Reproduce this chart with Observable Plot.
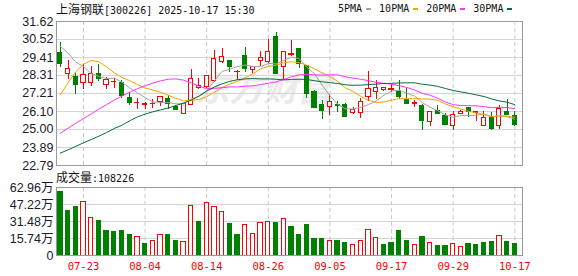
<!DOCTYPE html>
<html><head><meta charset="utf-8">
<script src="https://cdn.jsdelivr.net/npm/d3@7"></script>
<script src="https://cdn.jsdelivr.net/npm/@observablehq/plot@0.6"></script>
<style>
body{margin:0;background:#fff;}
#wrap{position:relative;width:578px;height:276px;overflow:hidden;background:#fff;}
#price,#vol{position:absolute;left:0;}
#price{top:0;}
#vol{top:170px;}
.t{position:absolute;white-space:nowrap;color:#111;}
.cjk{font-family:"Noto Sans CJK SC",sans-serif;font-size:12px;}
.mono{font-family:"DejaVu Sans Mono",monospace;font-size:10px;}
#title{left:56px;top:1px;line-height:16px;}
#vtitle{left:56px;top:169px;line-height:16px;}
#legend{left:338px;top:1px;line-height:16px;display:flex;align-items:center;}
.sw{display:inline-block;width:5px;height:2px;margin-left:4px;margin-right:8px;}
</style></head><body>
<div id="wrap">
  <div id="price"></div>
  <div id="vol"></div>
  <div class="t" id="title"></div>
  <div class="t" id="vtitle"></div>
  <div class="t mono" id="legend"></div>
</div>
<script>
const stockName = "上海钢联";
const stockCode = "[300226]";
const stamp = "2025-10-17 15:30";
const volLabel = "成交量";
const lastVolume = "108226";
const watermark = "东方财富";

const dates = ["07-18","07-21","07-22","07-23","07-24","07-25","07-28","07-29","07-30","07-31",
  "08-01","08-04","08-05","08-06","08-07","08-08","08-11","08-12","08-13","08-14",
  "08-15","08-18","08-19","08-20","08-21","08-22","08-25","08-26","08-27","08-28",
  "08-29","09-01","09-02","09-03","09-04","09-05","09-08","09-09","09-10","09-11",
  "09-12","09-15","09-16","09-17","09-18","09-19","09-22","09-23","09-24","09-25",
  "09-26","09-29","09-30","10-09","10-10","10-13","10-14","10-15","10-16","10-17"];

const open = [29.70,28.43,28.21,27.82,27.82,28.39,27.74,27.90,27.82,26.92,
  26.60,26.47,26.55,26.69,26.84,26.39,25.96,26.49,27.55,27.59,
  27.98,29.15,29.19,28.51,29.49,28.66,29.21,29.15,30.66,28.80,
  29.56,29.92,28.90,27.29,26.51,26.35,26.47,26.47,26.02,26.02,
  26.96,27.27,27.41,27.39,27.29,26.82,26.59,26.43,25.43,26.12,
  25.84,25.24,25.92,26.31,26.02,25.24,25.69,25.24,26.10,25.84];
const close = [29.02,28.70,27.74,28.31,28.39,28.12,28.02,27.93,27.06,26.63,
  26.65,26.55,26.58,26.96,26.55,26.22,26.55,28.12,27.67,28.25,
  29.29,29.45,28.80,28.53,28.70,28.82,29.41,29.78,28.41,29.74,
  29.62,29.02,27.18,26.31,26.16,26.67,26.45,25.75,26.20,26.71,
  27.47,27.57,27.53,27.49,27.00,26.57,26.61,25.51,26.10,25.94,
  25.28,25.86,26.10,26.08,26.04,25.69,25.04,26.24,25.90,25.28];
const high = [30.35,29.23,28.51,29.00,28.84,29.00,28.19,28.12,27.98,27.29,
  26.92,26.67,26.82,26.98,27.08,26.47,26.57,28.70,28.15,28.27,
  29.84,29.98,29.23,28.59,30.03,28.84,29.78,30.54,30.92,29.80,
  30.43,29.94,28.92,27.37,26.80,27.12,26.71,26.59,26.35,26.92,
  28.53,28.02,27.57,27.74,28.00,27.53,26.78,26.55,26.12,26.47,
  26.00,26.10,26.14,26.33,26.10,26.10,26.04,26.47,26.86,26.10];
const low = [28.80,28.04,27.16,27.43,27.61,27.96,27.45,27.49,26.90,26.45,
  26.20,26.24,26.31,26.39,26.22,26.16,25.94,26.45,27.43,27.53,
  27.90,29.06,28.49,28.00,28.50,28.45,28.86,29.06,28.39,28.02,
  29.47,28.72,26.88,26.29,25.59,25.86,26.06,25.73,25.90,25.65,
  26.71,26.82,27.35,27.29,26.82,26.55,26.37,24.92,25.16,25.92,
  25.26,24.92,25.90,25.75,25.49,25.22,24.92,25.00,25.88,25.16];

// 成交量, 万手
const volume = [58.95,41.36,45.06,49.38,34.88,32.10,22.84,21.91,22.84,19.13,
  16.97,10.80,13.27,18.83,19.13,13.58,12.35,45.68,31.17,48.45,
  44.75,40.12,29.32,19.13,28.09,19.75,29.94,30.86,30.25,33.64,
  26.54,19.13,28.39,15.43,15.43,13.27,13.58,11.73,9.88,13.27,
  23.46,16.05,9.88,11.73,22.84,13.58,9.88,17.28,11.42,8.95,
  8.95,10.49,7.72,10.80,9.88,11.73,12.65,17.90,12.65,10.82];
// 1 = 涨 (red, hollow), 0 = 跌 (green)
const volUp = [0,0,0,1,1,0,0,0,0,0, 1,0,1,1,0,0,1,1,0,1, 1,1,0,0,1,1,1,1,0,1,
  0,0,0,0,0,1,0,0,1,1, 1,1,0,0,0,0,1,0,1,0, 0,1,1,0,0,0,0,1,0,0];

const ma5 = [30.09,29.68,29.12,28.87,28.43,28.25,28.12,28.15,27.90,27.55,
  27.25,26.95,26.68,26.66,26.65,26.57,26.57,26.88,27.02,27.36,
  27.98,28.56,28.69,28.86,28.95,28.86,28.85,29.05,29.02,29.23,
  29.43,29.35,28.83,28.41,27.70,27.07,26.55,26.27,26.25,26.36,
  26.52,26.74,27.10,27.35,27.41,27.23,27.04,26.64,26.36,26.15,
  25.89,25.74,25.86,25.85,25.87,25.95,25.79,25.82,25.78,25.63];
const ma10 = [27.12,27.86,28.53,29.00,29.23,29.15,28.84,28.47,28.19,27.99,
  27.75,27.54,27.42,27.28,27.10,26.91,26.76,26.78,26.84,27.01,
  27.28,27.57,27.79,27.94,28.16,28.42,28.71,28.87,28.94,29.09,
  29.15,29.10,28.94,28.72,28.47,28.25,27.95,27.55,27.33,27.03,
  26.80,26.65,26.69,26.80,26.89,26.88,26.89,26.87,26.86,26.78,
  26.56,26.39,26.25,26.11,26.01,25.92,25.77,25.84,25.82,25.75];
const ma20 = [24.77,25.08,25.38,25.67,25.95,26.25,26.52,26.80,27.05,27.28,
  27.50,27.68,27.84,27.98,28.08,28.10,28.02,27.86,27.66,27.50,
  27.52,27.56,27.61,27.61,27.65,27.68,27.75,27.84,27.91,28.07,
  28.23,28.35,28.38,28.35,28.33,28.35,28.35,28.23,28.15,28.08,
  27.99,27.89,27.83,27.78,27.68,27.57,27.42,27.21,27.10,26.91,
  26.68,26.52,26.47,26.46,26.45,26.40,26.33,26.36,26.34,26.27];
const ma30 = [23.55,23.75,23.96,24.18,24.38,24.59,24.81,25.06,25.26,25.53,
  25.77,25.94,26.08,26.20,26.31,26.47,26.62,26.80,27.05,27.35,
  27.60,27.80,27.95,28.05,28.10,28.12,28.10,28.10,28.08,28.04,
  28.07,28.08,28.06,27.99,27.92,27.87,27.82,27.74,27.71,27.72,
  27.75,27.78,27.82,27.83,27.85,27.86,27.86,27.77,27.72,27.64,
  27.51,27.39,27.30,27.22,27.12,27.02,26.87,26.75,26.67,26.52];

const maNames = ["5PMA","10PMA","20PMA","30PMA"];
const maColors = ["#a3a3a3","#f5a300","#ff33ff","#0a6b3a"];
const priceTicks = [22.79,23.89,25.00,26.10,27.21,28.31,29.41,30.52,31.62];
const volTicks = [0,15.74,31.48,47.22,62.96];
const dateTicks = ["07-23","08-04","08-14","08-26","09-05","09-17","09-29","10-17"];

const RED = "#ff0000", GREEN = "#008000";
const rows = dates.map((d, i) => ({
  i, date: d, open: open[i], close: close[i], high: high[i], low: low[i],
  vol: volume[i], vup: volUp[i], ma5: ma5[i], ma10: ma10[i], ma20: ma20[i], ma30: ma30[i]
}));
const tickIdx = dateTicks.map(d => dates.indexOf(d));
const candleColor = d => d.close >= d.open ? RED : GREEN;
const maKeys = ["ma5","ma10","ma20","ma30"];
const xDomain = [-0.5, dates.length];
const axisFont = "Liberation Sans, Arial, Noto Sans CJK SC, sans-serif";
const gridColor = "#d4d4d4";

const price = Plot.plot({
  width: 578, height: 170, marginTop: 21, marginBottom: 5, marginLeft: 56, marginRight: 56,
  x: {type: "linear", domain: xDomain, axis: null},
  y: {domain: [priceTicks[0], priceTicks[priceTicks.length - 1]], axis: null},
  style: {background: "transparent", overflow: "visible"},
  marks: [
    Plot.text([watermark], {frameAnchor: "middle", dx: -26, dy: -3, fontSize: 34, fontWeight: "bold",
      fontStyle: "italic", fill: "#ebebeb", fontFamily: "Noto Sans CJK SC"}),
    Plot.ruleY(priceTicks, {stroke: gridColor}),
    Plot.ruleX(tickIdx, {stroke: "#c8c8c8", strokeDasharray: "4,3"}),
    Plot.axisY({ticks: priceTicks, tickFormat: d => d.toFixed(2), tickSize: 0, tickPadding: 3, label: null,
      fontSize: 12.5, fontFamily: axisFont, color: "#1a1a2a"}),
    Plot.ruleX(rows, {x: "i", y1: "low", y2: "high", stroke: candleColor, shapeRendering: "crispEdges"}),
    Plot.rect(rows, {x1: d => d.i - 0.27, x2: d => d.i + 0.27, y1: "open", y2: "close",
      fill: d => d.close >= d.open ? "#fff" : GREEN, stroke: candleColor, shapeRendering: "crispEdges"}),
    ...maKeys.map((k, j) => Plot.line(rows, {x: "i", y: k, stroke: maColors[j], strokeWidth: 1})),
    Plot.frame({stroke: "#999"})
  ]
});
document.getElementById("price").appendChild(price);

const vol = Plot.plot({
  width: 578, height: 106, marginTop: 17, marginBottom: 21, marginLeft: 56, marginRight: 56,
  x: {type: "linear", domain: xDomain, axis: null},
  y: {domain: [0, volTicks[volTicks.length - 1]], axis: null},
  style: {background: "transparent", overflow: "visible"},
  marks: [
    Plot.ruleY(volTicks, {stroke: gridColor}),
    Plot.ruleX(tickIdx, {stroke: "#c8c8c8", strokeDasharray: "4,3"}),
    Plot.axisY({ticks: volTicks, tickFormat: d => d === 0 ? "0" : d.toFixed(2) + "万", tickSize: 0, tickPadding: 3,
      label: null, fontSize: 12.5, fontFamily: axisFont, color: "#1a1a2a"}),
    Plot.axisX({ticks: tickIdx, tickFormat: i => dates[i], tickSize: 0, tickPadding: 7, label: null,
      fontSize: 10.5, fontFamily: "DejaVu Sans Mono, monospace", color: RED}),
    Plot.rect(rows, {x1: d => d.i - 0.28, x2: d => d.i + 0.28, y1: 0, y2: "vol",
      fill: d => d.vup ? "#fff" : GREEN, stroke: d => d.vup ? RED : GREEN, shapeRendering: "crispEdges"}),
    Plot.frame({stroke: "#999"})
  ]
});
document.getElementById("vol").appendChild(vol);

document.getElementById("title").innerHTML =
  `<span class="cjk">${stockName}</span><span class="mono">${stockCode} ${stamp}</span>`;
document.getElementById("vtitle").innerHTML =
  `<span class="cjk">${volLabel}</span><span class="mono">:${lastVolume}</span>`;
document.getElementById("legend").innerHTML = maNames.map((n, j) =>
  `<span>${n}</span><span class="sw" style="background:${maColors[j]}"></span>`).join("");
</script>
</body></html>
